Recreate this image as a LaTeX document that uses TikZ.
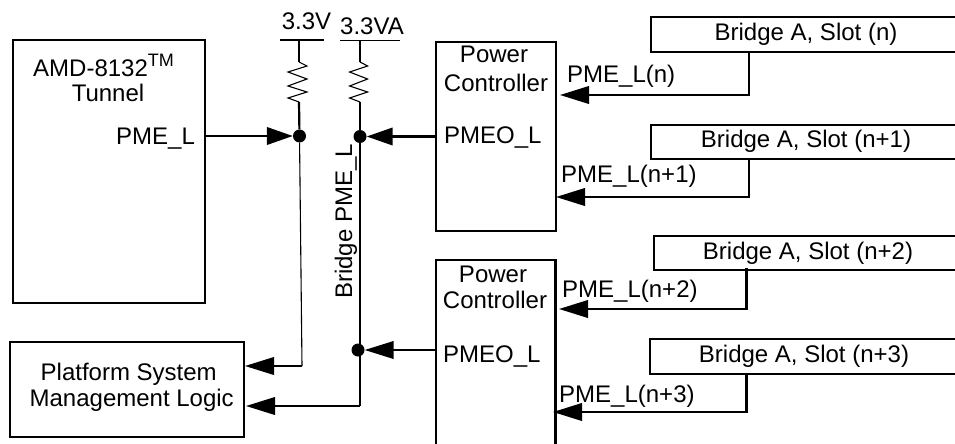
\documentclass[tikz,border=0pt]{standalone}
\usepackage{fontspec}
\setmainfont{Liberation Sans}
\usetikzlibrary{arrows.meta}
\tikzset{
  x=1pt,y=-1pt,
  box/.style={line width=2.2pt,line cap=rect},
  wire/.style={line width=2.2pt},
  thinwire/.style={line width=1.1pt},
  arrowwire/.style={line width=2.2pt,-{Triangle[length=29pt,width=17.5pt]}},
  shortarrow/.style={line width=2.2pt,-{Triangle[length=26pt,width=17.5pt]}},
  lbl/.style={inner sep=0pt,anchor=base,font=\fontsize{24}{26.5}\selectfont},
  lblw/.style={lbl,anchor=base west},
  dot/.style={circle,fill=black,inner sep=0pt,minimum size=13pt},
  resistor/.pic={\draw[line width=1.1pt,line join=miter] (0,0) -- (8,4) -- (-11,10) -- (8,17) -- (-11,24) -- (8,30) -- (-11,36) -- (0,40);},
}
\begin{document}
\begin{tikzpicture}
\useasboundingbox (0,0) rectangle (955,444);
% boxes
\draw[box] (12.7,40) rectangle (205,303);
\node[lblw] (amd) at (33,77) {AMD-8132\raisebox{10pt}{\fontsize{18}{20}\selectfont TM}};
\node[lbl] (tun) at (108,101) {Tunnel};
\node[lblw] (pme) at (116,144) {PME\_L};
\draw[box] (10,342) rectangle (244,437);
\node[lbl] (plat1) at (128.7,380) {Platform System};
\node[lbl] (plat2) at (131.7,406) {Management Logic};
\draw[box] (436,42) rectangle (556,231);
\node[lbl] (pc1a) at (494,63) {Power};
\node[lbl] (pc1b) at (496,91) {Controller};
\node[lblw] (pmeo1) at (444,143) {PMEO\_L};
\draw[box] (436,444) -- (436,260) -- (555.5,260) -- (555.5,444);
\node[lbl] (pc2a) at (493,282) {Power};
\node[lbl] (pc2b) at (495,308) {Controller};
\node[lblw] (pmeo2) at (443,362) {PMEO\_L};
% slot boxes
\draw[box] (955,17) -- (651,17) -- (651,52) -- (955,52);
\node[lbl] (s0) at (806,41) {Bridge A, Slot (n)};
\draw[box] (955,125) -- (651,125) -- (651,159) -- (955,159);
\node[lbl] (s1) at (806,147) {Bridge A, Slot (n+1)};
\draw[box] (955,236) -- (654,236) -- (654,270) -- (955,270);
\node[lbl] (s2) at (808,259) {Bridge A, Slot (n+2)};
\draw[box] (955,339) -- (650,339) -- (650,374) -- (955,374);
\node[lbl] (s3) at (804,362) {Bridge A, Slot (n+3)};
% slot arrows
\coordinate (a0) at (749,52); \coordinate (b0) at (749,95); \coordinate (c0) at (560,95);
\coordinate (a1) at (749,159); \coordinate (b1) at (749,197); \coordinate (c1) at (556,197);
\coordinate (a2) at (746.5,268); \coordinate (b2) at (746.5,309); \coordinate (c2) at (559,309);
\coordinate (a3) at (746.5,374); \coordinate (b3) at (746.5,412); \coordinate (c3) at (553,412);
\foreach \i in {0,1,2,3}{\draw[arrowwire] (a\i) -- (b\i) -- (c\i);}
\node[lblw] (l0) at (567,82) {PME\_L(n)};
\node[lblw] (l1) at (561,182) {PME\_L(n+1)};
\node[lblw] (l2) at (562,297) {PME\_L(n+2)};
\node[lblw] (l3) at (559,402) {PME\_L(n+3)};
% rails
\node[lbl] (v1) at (306.5,30) {3.3V};
\coordinate (v1a) at (280,40); \coordinate (v1b) at (324,40);
\draw[line width=2.2pt] (v1a) -- (v1b);
\node[lbl] (v2) at (372,35) {3.3VA};
\coordinate (v2a) at (340,40.5); \coordinate (v2b) at (400,40.5);
\draw[thinwire] (v2a) -- (v2b);
% resistors
\coordinate (r1t) at (299,62); \coordinate (r1b) at (299,102);
\coordinate (r2t) at (360,62); \coordinate (r2b) at (360,102);
\path (r1t) pic {resistor};
\path (r2t) pic[xscale=0.95] {resistor};
\draw[thinwire] (299,40) -- (r1t);
\draw[thinwire] (360,40.5) -- (r2t);
% junctions
\node[dot] (j1) at (299.5,136) {};
\node[dot] (j2) at (360,136.5) {};
\node[dot] (j3) at (358,350) {};
\draw[wire] (r1b) -- (j1);
\draw[wire] (r2b) -- (j2);
% PME arrows
\draw[shortarrow] (205,136) -- (j1.west);
\draw[shortarrow] (436,136.5) -- (j2.east);
\draw[arrowwire] (436,350) -- (j3.east);
\coordinate (p1) at (302,366);
\coordinate (p2) at (360,406);
\draw[thinwire,-] (j1) -- (p1);
\draw[arrowwire] (p1) -- (245,366);
\draw[wire] (j2) -- (p2);
\draw[arrowwire] (p2) -- (246,406);
\node[lbl,rotate=90] (bp) at (352,221.5) {Bridge PME\_L};
\end{tikzpicture}
\end{document}
